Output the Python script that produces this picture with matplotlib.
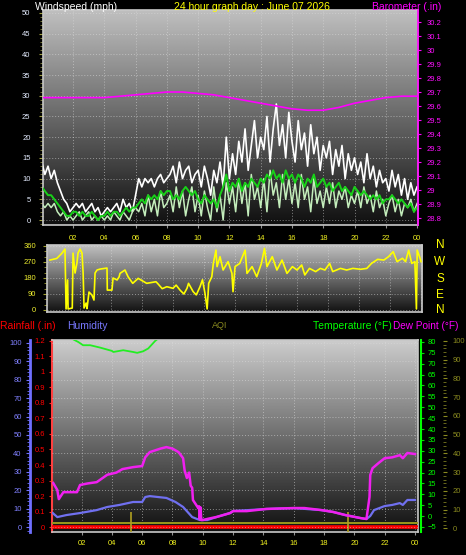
import numpy as np
import matplotlib
matplotlib.use("Agg")
import matplotlib.pyplot as plt
from matplotlib.ticker import MultipleLocator, FixedLocator, FixedFormatter

plt.rcParams['font.family'] = ['Liberation Sans', 'DejaVu Sans']

W, H = 466, 555
PT = 72 / 100.0  # points per pixel

# ---------------- data ----------------
hour_ticks = [2, 4, 6, 8, 10, 12, 14, 16, 18, 20, 22, 24]
hour_labels = ['02', '04', '06', '08', '10', '12', '14', '16', '18', '20', '22', '00']

wind_t = np.round(np.arange(0, 24.01, 0.2), 2)
gust = [14, 11, 13, 10, 12, 9,
        7, 5, 4, 2, 3,
        4, 3, 4, 2, 3, 4, 2, 3, 1, 2,
        3, 2, 3, 4, 2, 5, 3, 4, 2, 6,
        10, 8, 10, 9, 10, 8, 10, 11, 9, 10,
        11, 13, 9, 14, 10, 12, 13, 9, 11, 12,
        8, 13, 10, 6, 12, 9, 14, 8, 20, 10,
        16, 11, 19, 14, 22, 12, 18, 24, 15, 20,
        17, 25, 14, 22, 28, 18, 23, 15, 26, 19,
        14, 24, 17, 21, 13, 23, 16, 20, 12, 18,
        15, 19, 11, 17, 13, 18, 10, 16, 12, 15,
        11, 14, 9, 16, 10, 13, 8, 12, 9, 10,
        7, 12, 8, 11, 6, 10, 5, 9, 6, 8]
speed = [4, 3, 4, 3, 4, 2,
         1, 2, 0, 1, 0,
         1, 2, 0, 1, 2, 0, 1, 0, 1, 0,
         1, 0, 2, 1, 0, 2, 1, 0, 2, 3,
         2, 4, 1, 6, 2, 5, 1, 7, 3, 4,
         6, 2, 8, 3, 7, 1, 5, 8, 2, 6,
         1, 7, 3, 0, 8, 2, 6, 0, 9, 4,
         8, 2, 10, 4, 9, 1, 11, 5, 8, 3,
         10, 2, 12, 6, 9, 3, 11, 5, 10, 4,
         9, 3, 11, 5, 8, 2, 10, 4, 7, 3,
         8, 4, 9, 3, 7, 5, 8, 3, 6, 4,
         7, 3, 8, 4, 6, 2, 7, 3, 5, 1,
         4, 6, 2, 5, 1, 4, 3, 5, 2, 4]
avg = [8, 7, 6, 6, 5, 4,
       3, 2, 1, 1, 2,
       2, 1, 2, 1, 1, 2, 1, 0, 1, 1,
       2, 1, 2, 2, 1, 2, 3, 2, 3, 3,
       4, 5, 4, 6, 5, 6, 5, 7, 6, 7,
       7, 5, 6, 5, 7, 8, 7, 6, 7, 5,
       4, 6, 5, 4, 5, 3, 6, 8, 11, 7,
       9, 8, 10, 7, 9, 8, 10, 9, 8, 10,
       9, 11, 10, 12, 10, 11, 9, 12, 10, 11,
       9, 11, 10, 8, 10, 9, 11, 8, 9, 10,
       8, 9, 7, 8, 9, 7, 8, 7, 6, 8,
       7, 6, 7, 6, 5, 6, 5, 6, 4, 5,
       5, 6, 5, 4, 5, 4, 3, 4, 2, 3]

baro_t = list(range(25))
baro = [29.66, 29.66, 29.66, 29.66, 29.66, 29.67, 29.68, 29.69, 29.70, 29.70,
        29.69, 29.68, 29.66, 29.64, 29.62, 29.60, 29.58, 29.57, 29.57, 29.59,
        29.62, 29.64, 29.66, 29.67, 29.67]

dir_t = [0.06, 0.5, 0.84, 1.03, 1.1, 1.2, 1.23, 1.5, 1.55, 1.68, 1.8, 1.87, 2.0, 2.13,
         2.2, 2.26, 2.39, 2.45, 2.58, 2.77, 2.9, 2.97, 3.1, 3.29, 3.74, 3.76, 4.06, 4.13,
         4.39, 4.52, 4.58, 4.9, 5.1, 5.4, 5.75, 6.3, 6.9, 7.0, 7.3, 7.6, 8.0, 8.2, 8.45,
         8.7, 8.9, 9.0, 9.3, 9.5, 9.74, 9.9, 10.06, 10.2, 10.3, 10.5, 10.6, 10.77, 10.84,
         11.03, 11.23, 11.55, 11.8, 11.87, 12.0, 12.3, 12.65, 12.77, 13.1, 13.4, 13.7,
         13.9, 14.06, 14.4, 14.7, 15.03, 15.35, 15.7, 16.0, 16.3, 16.5, 16.8, 17.2, 17.5,
         17.8, 18.1, 18.3, 18.8, 19.2, 19.6, 20.1, 20.5, 20.8, 21.2, 21.6, 21.9, 22.2,
         22.45, 22.8, 23.0, 23.2, 23.4, 23.6, 23.7, 23.75, 23.9, 24.0]
dir_deg = [281, 290, 320, 343, 6, 169, 6, 11, 320, 208, 264, 320, 343, 320,
           208, 11, 39, 8, 101, 84, 56, 208, 225, 230, 236, 112, 112, 180,
           169, 186, 206, 225, 187, 150, 178, 150, 159, 150, 120, 131, 122, 140, 112,
           90, 122, 150, 103, 85, 131, 170, 94, 6, 150, 187, 262, 337, 244,
           300, 225, 272, 206, 103, 244, 262, 337, 206, 244, 187, 262,
           347, 244, 300, 225, 281, 206, 244, 225, 253, 197, 234, 216, 234,
           225, 262, 216, 234, 225, 234, 229, 234, 262, 285, 281, 300, 328,
           272, 291, 272, 337, 262, 272, 6, 337, 300, 272]

temp_t = [0, 1, 1.5, 1.78, 2.1, 2.57, 3.23, 4.0, 4.1, 4.75, 5.4, 5.67, 6.06, 6.4,
          6.86, 7.5, 9, 12, 15, 18, 21, 24]
temp = [86, 83, 81, 80.0, 78.5, 78.5, 77.4, 75.9, 75.4, 76.2, 75.4, 75.0, 75.7, 77.0,
        80.5, 84, 88, 92, 94, 92, 88, 85]

dew_t = [0.13, 0.4, 0.5, 0.8, 1.7, 1.9, 2.4, 3.0, 3.7, 4.3, 4.7, 5.4, 6.0, 6.2, 6.5,
         7.2, 7.6, 8.0, 8.4, 8.7, 8.8, 8.95, 9.1, 9.2, 9.3, 9.35, 9.7, 9.75, 9.8, 9.85,
         9.9, 10.0, 10.3, 10.9, 11.8, 12.0, 12.9, 14.2, 16.0, 16.7, 17.8, 18.6, 19.4,
         20.4, 20.8, 21.0, 21.05, 21.2, 21.6, 22.0, 22.5, 23.0, 23.2, 23.5, 24.0]
dew = [15.2, 12, 7.8, 11, 11, 14.3, 15, 15.6, 19, 20, 21.6, 22.5, 23, 27, 29.4,
       31, 31.7, 31, 29.4, 26.6, 21, 17.5, 20, 14, 13, 7.4, 3.7, 4.5, -1.5, 4.0,
       -1.8, -1.8, -1.3, -0.4, 1.4, 2.3, 2.3, 3.3, 3.7, 3.7, 2.8, 1.9, 0.5,
       -0.9, -1.3, 8.8, 18.9, 22, 24.4, 26.6, 27, 28, 26.6, 29, 28.5]

hum_t = [0.1, 0.4, 1.0, 1.9, 3.0, 3.7, 4.5, 5.4, 6.0, 6.2, 6.5, 7.6, 8.2, 8.7, 9.3,
         9.8, 10.3, 10.9, 11.8, 12.0, 14.2, 16.0, 17.8, 18.6, 19.4, 20.4, 20.8, 21.05,
         21.3, 22.0, 22.5, 23.0, 23.2, 23.5, 24.0]
hum = [7.6, 5.4, 6.5, 7.6, 9.2, 10.9, 12.0, 13.6, 13.6, 16.3, 16.8, 15.8, 13.6, 10.9,
       5.4, 3.8, 3.8, 5.4, 7.6, 8.7, 9.8, 10.3, 9.2, 8.2, 6.5, 4.9, 4.3, 6.0,
       9.2, 11.4, 12.0, 13.0, 12.0, 14.7, 14.7]

rain_t = [0, 24.2]
rain = [0, 0]
aqi_t = [0, 24.2]
aqi = [3, 3]
aqi_spike_t = [5.25, 19.6]
aqi_spike = [9, 9]

# ---------------- helpers ----------------
fig = plt.figure(figsize=(W / 100, H / 100), dpi=100, facecolor='black')


def px_rect(l, t, r, b):
    return [l / W, 1 - b / H, (r - l) / W, (b - t) / H]


def gradient(ax, top, bottom):
    g = np.linspace(top, bottom, 256)[:, None] * np.ones((1, 2))
    ax.imshow(g, cmap='gray', vmin=0, vmax=255, extent=[0, 1, 0, 1],
              transform=ax.transAxes, aspect='auto', origin='upper',
              zorder=0, interpolation='bilinear')


def ftext(x, y, s, color, size=7.5, ha='left'):
    fig.text(x / W, 1 - y / H, s, color=color, fontsize=size, ha=ha, va='center')


GRID = dict(color='#dcdcdc', ls=(0, (1, 2)), lw=0.7, alpha=0.55)
TL = 5.5  # tick label size

# ---------------- top panel: wind speed + barometer ----------------
ax1 = fig.add_axes(px_rect(43, 10, 418, 225))
ax1.set_facecolor('black')
gradient(ax1, 192, 16)
ax1.plot(wind_t, gust, color='white', lw=1.2, zorder=3)
ax1.plot(wind_t, speed, color='#c4eebc', lw=1.1, zorder=4)
ax1.plot(wind_t, avg, color='#18d018', lw=1.4, zorder=5)
ax1.set_xlim(0.08, 24.06)
ax1.set_ylim(-1.2, 50.7)
ax1.yaxis.set_major_locator(MultipleLocator(5))
ax1.yaxis.set_minor_locator(MultipleLocator(1))
ax1.set_xticks(hour_ticks)
ax1.set_xticklabels(hour_labels)
ax1.tick_params(axis='x', colors='#909090', labelcolor='#f0f020', labelsize=TL,
                length=2, pad=5)
ax1.tick_params(axis='y', which='major', colors='#a0a040', labelcolor='#e4ecff',
                labelsize=TL, length=3, pad=6)
ax1.tick_params(axis='y', which='minor', colors='#8a8a40', length=2)
ax1.grid(True, **GRID)
for s in ax1.spines.values():
    s.set_color('#c8c8c8')
    s.set_linewidth(1.2)

ax1b = ax1.twinx()
ax1b.plot(baro_t, baro, color='#ff00ff', lw=1.2)
ax1b.set_ylim(28.75, 30.286)
baro_ticks = [28.8, 28.9, 29.0, 29.1, 29.2, 29.3, 29.4, 29.5, 29.6, 29.7, 29.8, 29.9, 30.0, 30.1, 30.2]
baro_lbls = ['28.8', '28.9', '29', '29.1', '29.2', '29.3', '29.4', '29.5', '29.6', '29.7',
             '29.8', '29.9', '30', '30.1', '30.2']
ax1b.yaxis.set_major_locator(FixedLocator(baro_ticks))
ax1b.yaxis.set_major_formatter(FixedFormatter(baro_lbls))
ax1b.tick_params(axis='y', colors='#ff00ff', labelcolor='#ff10ff', labelsize=TL,
                 length=2, pad=4)
ax1b.spines['right'].set_color('#ff00ff')
ax1b.spines['right'].set_linestyle((0, (1, 1)))
ax1b.spines['right'].set_linewidth(1.2)
for k in ('left', 'top', 'bottom'):
    ax1b.spines[k].set_visible(False)

ftext(35, 7, 'Windspeed (mph)', 'white')
ftext(252, 7, '24 hour graph day : June 07 2026', '#ffff00', ha='center')
ftext(372, 7, 'Barometer (.in)', '#ff00ff')

# ---------------- wind direction panel ----------------
ax2 = fig.add_axes(px_rect(47, 245, 422, 312))
ax2.set_facecolor('black')
gradient(ax2, 195, 18)
ax2.plot(dir_t, dir_deg, color='#ffff00', lw=1.2, zorder=3)
ax2.set_xlim(-0.13, 24.06)
ax2.set_ylim(-11.25, 365.6)
ax2.set_yticks([0, 90, 180, 270, 360])
ax2.set_xticks(hour_ticks)
ax2.tick_params(axis='x', length=0, labelbottom=False)
ax2.yaxis.set_minor_locator(MultipleLocator(30))
ax2.tick_params(axis='y', which='major', colors='#a0a030', labelcolor='#eeee30',
                labelsize=TL, length=3, pad=5)
ax2.tick_params(axis='y', which='minor', colors='#a0a030', length=2)
ax2.grid(True, **GRID)
for s in ax2.spines.values():
    s.set_color('#c8c8c8')
    s.set_linewidth(1.2)
for lab, yy in zip(['N', 'W', 'S', 'E', 'N'], [245, 262, 279, 295, 310]):
    ftext(440, yy, lab, '#ffff00', size=8.5, ha='center')

# ---------------- bottom panel ----------------
ftext(0, 326, 'Rainfall (.in)', '#ff0000')
ftext(67, 326, 'Humidity', '#7878ff')
ftext(212, 326, 'AQI', '#8a8a20', size=6.5)
ftext(313, 326, 'Temperature (°F)', '#00ff00')
ftext(393, 326, 'Dew Point (°F)', '#ff00ff', size=7.2)

axB = fig.add_axes(px_rect(52, 340, 418, 532))
axB.set_facecolor('black')
gradient(axB, 205, 16)
axB.plot(rain_t, rain, color='#ff0000', lw=2.6, zorder=3, solid_capstyle='butt')
axB.set_xlim(0.05, 24.2)
axB.set_ylim(-0.032, 1.206)
rain_ticks = [0, 0.1, 0.2, 0.3, 0.4, 0.5, 0.6, 0.7, 0.8, 0.9, 1.0, 1.1, 1.2]
rain_lbls = ['0', '0.1', '0.2', '0.3', '0.4', '0.5', '0.6', '0.7', '0.8', '0.9', '1', '1.1', '1.2']
axB.yaxis.set_major_locator(FixedLocator(rain_ticks))
axB.yaxis.set_major_formatter(FixedFormatter(rain_lbls))
axB.tick_params(axis='y', colors='#ff2020', labelcolor='#ff0000', labelsize=TL,
                length=2, pad=3)
axB.set_xticks(hour_ticks)
axB.set_xticklabels(hour_labels)
axB.tick_params(axis='x', colors='#909090', labelcolor='#f0f020', labelsize=TL,
                length=2, pad=4)
axB.xaxis.grid(True, **GRID)
for s in axB.spines.values():
    s.set_color('#c8c8c8')
    s.set_linewidth(1.2)
axB.spines['left'].set_color('#ff4040')
axB.spines['left'].set_linestyle((0, (1, 1)))
axB.spines['left'].set_linewidth(1.5)

# AQI axis (far right, olive)
axA = axB.twinx()
axA.plot(aqi_t, aqi, color='#9a9a1c', lw=1.4)
axA.vlines(aqi_spike_t, -2, aqi_spike, color='#b0a020', lw=1.2)
axA.set_ylim(-1.87, 100.5)
axA.yaxis.set_major_locator(MultipleLocator(10))
axA.yaxis.set_minor_locator(MultipleLocator(2))
axA.tick_params(axis='y', which='major', colors='#8a8a20', labelcolor='#8a8a20',
                labelsize=TL, length=3, pad=4)
axA.tick_params(axis='y', which='minor', colors='#7a7a20', length=2)
axA.spines['right'].set_position(('outward', 25 * PT))
axA.spines['right'].set_visible(False)
for k in ('left', 'top', 'bottom'):
    axA.spines[k].set_visible(False)

# Humidity axis (far left, blue)
axH = axB.twinx()
axH.plot(hum_t, hum, color='#7070f0', lw=1.6)
axH.set_ylim(-2.7, 101.6)
axH.yaxis.tick_left()
axH.yaxis.set_major_locator(MultipleLocator(10))
axH.yaxis.set_minor_locator(MultipleLocator(2))
axH.spines['left'].set_visible(True)
axH.spines['left'].set_position(('outward', 22 * PT))
axH.spines['left'].set_color('#7070ff')
axH.spines['left'].set_linewidth(2)
for k in ('right', 'top', 'bottom'):
    axH.spines[k].set_visible(False)
axH.tick_params(axis='y', which='major', colors='#7070ff', labelcolor='#8080ff',
                labelsize=TL, length=3, pad=3)
axH.tick_params(axis='y', which='minor', colors='#7070ff', length=2)
axH.grid(True, **GRID)

# Temperature / dew point axis (right, green)
axT = axB.twinx()
axT.plot(dew_t, dew, color='#f020f0', lw=1.8)
axT.plot(temp_t, temp, color='#22ee22', lw=1.3)
axT.set_ylim(-7.3, 80.9)
axT.yaxis.set_major_locator(MultipleLocator(5))
axT.spines['right'].set_position(('outward', 3 * PT))
axT.spines['right'].set_color('#00ff00')
axT.spines['right'].set_linewidth(1.5)
for k in ('left', 'top', 'bottom'):
    axT.spines[k].set_visible(False)
axT.tick_params(axis='y', colors='#00dd00', labelcolor='#00ff00', labelsize=TL,
                length=2, pad=3)

for a in (axA, axH, axT):
    a.set_xlim(0.05, 24.2)
    a.tick_params(axis='x', bottom=False, labelbottom=False, top=False)

fig.savefig('out.png', dpi=100, facecolor='black')
